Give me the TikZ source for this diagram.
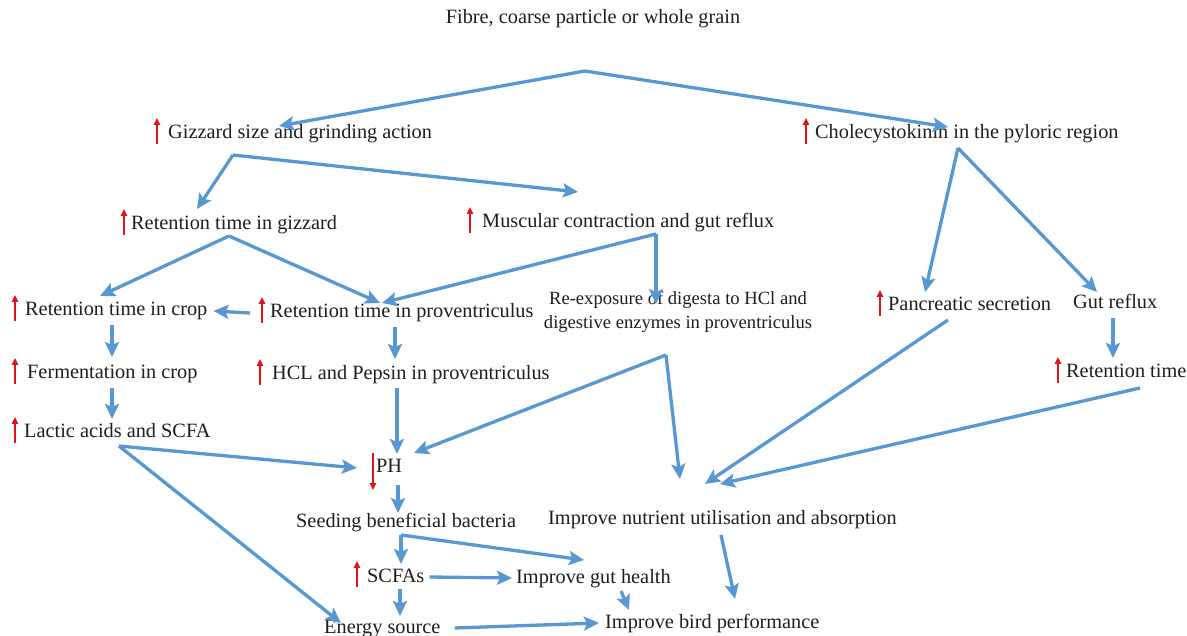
\documentclass[tikz,border=0pt]{standalone}
\usepackage{fontspec}
\setmainfont{Liberation Serif}
\usetikzlibrary{arrows.meta}
\definecolor{flow}{RGB}{88,152,210}
\definecolor{upred}{RGB}{225,20,30}
\definecolor{txt}{RGB}{30,30,30}
\tikzset{
  lbl/.style={anchor=west,inner sep=0pt,text height=14pt,text depth=4pt,text=txt,font=\fontsize{20.3}{24}\selectfont},
  flowarrow/.style={draw=flow,line width=3.3pt,-{Stealth[length=15pt,width=14pt,inset=3pt]}},
  incr/.style={draw=upred,line width=1.3pt,-{Triangle[length=7pt,width=6.5pt]}},
}
\begin{document}
\begin{tikzpicture}[x=1pt,y=-1pt]
\useasboundingbox[fill=white] (0,0) rectangle (1187,636);
% nodes
\node[lbl,anchor=center] (title) at (593,19) {Fibre, coarse particle or whole grain};
\node[lbl] (giz) at (168,134) {Gizzard size and grinding action};
\node[lbl] (cck) at (815,134) {Cholecystokinin in the pyloric region};
\node[lbl] (retg) at (131,225) {Retention time in gizzard};
\node[lbl] (musc) at (482,223) {Muscular contraction and gut reflux};
\node[lbl] (retc) at (25,311) {Retention time in crop};
\node[lbl] (retp) at (270,313) {Retention time in proventriculus};
\node[lbl,anchor=center,align=center,font=\fontsize{18.6}{24}\selectfont] (reexp) at (678,324) {Re-exposure of digesta to HCl and\\[0pt]digestive enzymes in proventriculus};
\node[lbl] (panc) at (888,306) {Pancreatic secretion};
\node[lbl] (gutr) at (1073,304) {Gut reflux};
\node[lbl] (ferm) at (27,374) {Fermentation in crop};
\node[lbl] (hcl) at (272,375) {HCL and Pepsin in proventriculus};
\node[lbl] (lact) at (24,433) {Lactic acids and SCFA};
\node[lbl] (rett) at (1066,373) {Retention time};
\node[lbl] (ph) at (376,467) {PH};
\node[lbl] (seed) at (296,522) {Seeding beneficial bacteria};
\node[lbl] (nutr) at (548,519) {Improve nutrient utilisation and absorption};
\node[lbl] (scfa) at (367,577) {SCFAs};
\node[lbl] (guth) at (516,578) {Improve gut health};
\node[lbl] (energy) at (324,628) {Energy source};
\node[lbl] (bird) at (605,623) {Improve bird performance};
% red increase / decrease marks
\foreach \n/\d in {giz/11,cck/9,retg/7,musc/12,retc/10,retp/8,panc/8,ferm/12,hcl/12,lact/9,rett/8,scfa/10}{
  \draw[incr] ([xshift=-\d pt,yshift=-10pt]\n.west) -- ++(0pt,26pt);
}
\draw[incr] ([xshift=-3pt,yshift=14pt]ph.west) -- ++(0pt,-37pt);
% junction coordinates
\coordinate (split) at (585,71);
\coordinate (gizOut) at (233,155);
\coordinate (retgOut) at (229,236);
\coordinate (muscOut) at (656,234);
\coordinate (reexpOut) at (666,355);
\coordinate (lactOut) at (119,446);
\coordinate (seedOut) at (401,535);
\coordinate (cckOut) at (958,148);
% connectors
\draw[flowarrow] (split) -- (279,126);
\draw[flowarrow] (split) -- (948,127);
\draw[flowarrow] (gizOut) -- (197,209);
\draw[flowarrow] (gizOut) -- (578,192);
\draw[flowarrow] (retgOut) -- (100,296);
\draw[flowarrow] (retgOut) -- (380,303);
\draw[flowarrow] (muscOut) -- (382,303);
\draw[flowarrow] (muscOut) -- (656,304);
\draw[flowarrow] ([xshift=-20pt]retp.west) -- ([xshift=6pt]retc.east);
\draw[flowarrow] (112,325) -- (112,357);
\draw[flowarrow] (112,388) -- (112,419);
\draw[flowarrow] (395,327) -- (395,359);
\draw[flowarrow] (397,388) -- (397,454);
\draw[flowarrow] (reexpOut) -- (414,453);
\draw[flowarrow] (reexpOut) -- (680,479);
\draw[flowarrow] (lactOut) -- (357,468);
\draw[flowarrow] (lactOut) -- (341,623);
\draw[flowarrow] (398,485) -- (398,513);
\draw[flowarrow] (seedOut) -- (401,564);
\draw[flowarrow] (seedOut) -- (584,560);
\draw[flowarrow] ([xshift=5pt]scfa.east) -- ([xshift=-4pt]guth.west);
\draw[flowarrow] (400,589) -- (400,616);
\draw[flowarrow] ([xshift=14pt]energy.east) -- ([xshift=-6pt]bird.west);
\draw[flowarrow] (621,591) -- (629,610);
\draw[flowarrow] (721,535) -- (735,599);
\draw[flowarrow] (948,320) -- (705,484);
\draw[flowarrow] (1140,388) -- (720,484);
\draw[flowarrow] (1113,318) -- (1113,358);
\draw[flowarrow] (cckOut) -- (925,292);
\draw[flowarrow] (cckOut) -- (1097,292);
\end{tikzpicture}
\end{document}
